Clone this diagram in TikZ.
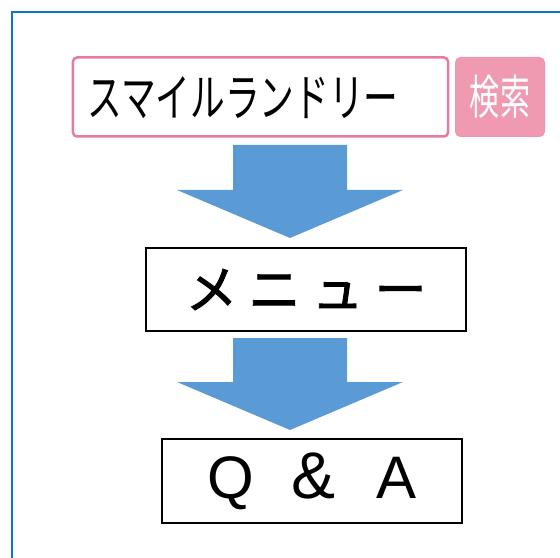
\documentclass[tikz,border=0pt]{standalone}
\usepackage{fontspec}
\usepackage{graphicx}
\newfontfamily\jp{Noto Sans CJK JP}
\newfontfamily\jpheavy[FakeBold=1.6]{Noto Sans CJK JP}
\setmainfont{Liberation Sans}
\usetikzlibrary{positioning,calc}

\definecolor{framblue}{HTML}{0B74CF}
\definecolor{arrblue}{HTML}{5B9BD5}
\definecolor{pinkline}{HTML}{E97A9E}
\definecolor{pinkfill}{HTML}{F09AB2}

% fat block arrow from tail coordinate to tip coordinate
\newcommand\fatarrow[2]{%
  \fill[bluearrow] ($(#1)+(-57,0)$) -- ($(#2)+(-57,-48)$) -- ($(#2)+(-113,-48)$)
    -- (#2) -- ($(#2)+(113,-48)$) -- ($(#2)+(57,-48)$) -- ($(#1)+(57,0)$) -- cycle;}

\begin{document}
\begin{tikzpicture}[
      x=1bp, y=-1bp
      ,framel/.style={draw=framblue, line width=2bp}
      ,searchbox/.style={rectangle, rounded corners=4bp, draw=pinkline, line width=2.5bp, fill=white,
        minimum width=375bp, minimum height=79bp, inner sep=0pt}
      ,btn/.style={rectangle, rounded corners=5bp, draw=pinkline!80, fill=pinkfill, line width=1bp,
        minimum width=89bp, minimum height=79bp, inner sep=0pt, text=white}
      ,stepbox/.style={rectangle, draw=black, line width=1.5bp, inner sep=0pt}
      ,bluearrow/.style={fill=arrblue}
   ]
   \useasboundingbox (0,0) rectangle (560,558);
   \draw[framel] (12,558) |- (560,12);

   \node[searchbox] (search) at (260.5,97) {};
   \node[anchor=west] (word) at (84,98)
      {\scalebox{0.68}[1]{\jp\fontsize{51bp}{55bp}\selectfont スマイルランドリー}};
   \node[btn] (find) at (500,97)
      {\scalebox{0.64}[1]{\jp\fontsize{47bp}{50bp}\selectfont 検索}};

   \node[stepbox, minimum width=320bp, minimum height=83bp] (menu) at (306,289.5)
      {\jpheavy\fontsize{52bp}{56bp}\selectfont メ\hspace{11bp}ニ\hspace{11bp}ュ\hspace{11bp}ー};
   \node[stepbox, minimum width=300bp, minimum height=84bp] (qa) at (312,481)
      {\fontsize{60bp}{64bp}\selectfont Q\hspace{38bp}{\fontsize{66bp}{70bp}\selectfont \&}\hspace{41bp}A};

   \coordinate (tailA) at (290,145);
   \coordinate (tipA) at (290,238);
   \coordinate (tailB) at (290,338);
   \coordinate (tipB) at (290,430);
   \fatarrow{tailA}{tipA}
   \fatarrow{tailB}{tipB}
\end{tikzpicture}
\end{document}
